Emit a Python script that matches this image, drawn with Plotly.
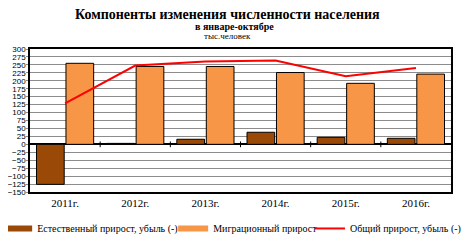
import plotly.graph_objects as go

years = ["2011г.", "2012г.", "2013г.", "2014г.", "2015г.", "2016г."]
natural = [-126, 3, 16, 38, 22, 19]
migration = [255, 245, 245, 226, 192, 221]
total = [129, 248, 261, 264, 214, 240]
y_ticks = list(range(-150, 301, 25))

names = ["Естественный прирост, убыль (-)", "Миграционный прирост", "Общий прирост, убыль (-)"]
colors = ["#9A4A06", "#F79646", "#FF0000"]

serif = "Liberation Serif"
sans = "Liberation Sans"

fig = go.Figure()
fig.add_trace(go.Bar(x=years, y=natural, name=names[0], showlegend=False,
                     marker=dict(color=colors[0], line=dict(color="black", width=1))))
fig.add_trace(go.Bar(x=years, y=migration, name=names[1], showlegend=False,
                     marker=dict(color=colors[1], line=dict(color="black", width=1))))
fig.add_trace(go.Scatter(x=years, y=total, name=names[2], mode="lines", showlegend=False,
                         line=dict(color=colors[2], width=2)))

# legend entries (wide rectangles like the reference)
legend_ids = ["legend", "legend2", "legend3"]
widths = [6, 6, 2]
for nm, col, lg, w in zip(names, colors, legend_ids, widths):
    fig.add_trace(go.Scatter(x=[None], y=[None], mode="lines", name=nm, legend=lg,
                             line=dict(color=col, width=w)))

# category boundary tick marks on the zero line
for i in range(len(years) - 1):
    fig.add_shape(type="line", xref="x", yref="y", x0=i + 0.5, x1=i + 0.5, y0=-9, y1=9,
                  line=dict(color="black", width=1))

leg_common = dict(orientation="h", yanchor="middle", y=-0.255, xanchor="left",
                  bgcolor="rgba(0,0,0,0)", font=dict(family=serif, size=10, color="black"),
                  itemwidth=30)
# the page body adds an 8px offset, so the figure is sized 8px smaller
fig.update_layout(
    width=462, height=236,
    margin=dict(l=22, r=19, t=41, b=52, autoexpand=False),
    paper_bgcolor="white", plot_bgcolor="white",
    barmode="group", bargap=0.16, bargroupgap=0.06,
    showlegend=True,
    legend=dict(x=-0.078, **leg_common),
    legend2=dict(x=0.34, **leg_common),
    legend3=dict(x=0.665, **leg_common),
    font=dict(family=serif, color="black"),
)
fig.update_xaxes(showline=True, linecolor="black", linewidth=1.5, mirror=True,
                 showgrid=False, ticks="", tickfont=dict(family=serif, size=11, color="black"),
                 automargin=False)
fig.update_yaxes(range=[-150, 300], tickvals=y_ticks, showline=True, linecolor="black",
                 linewidth=1.5, mirror=True, showgrid=True, gridcolor="#8c8c8c", gridwidth=1,
                 zeroline=True, zerolinecolor="black", zerolinewidth=1.5,
                 ticks="outside", ticklen=2, tickcolor="#8c8c8c", automargin=False,
                 ticklabelstandoff=-1,
                 tickfont=dict(family=sans, size=8, color="black"))

fig.add_annotation(text="<b>Компоненты изменения численности населения</b>", xref="paper", yref="paper",
                   x=0.47, y=1.0, yshift=35, showarrow=False, xanchor="center", yanchor="middle",
                   font=dict(family=serif, size=14, color="black"))
fig.add_annotation(text="<b>в январе-октябре</b>", xref="paper", yref="paper",
                   x=0.485, y=1.0, yshift=23, showarrow=False, xanchor="center", yanchor="middle",
                   font=dict(family=serif, size=10, color="black"))
fig.add_annotation(text="тыс.человек", xref="paper", yref="paper",
                   x=0.47, y=1.0, yshift=13, showarrow=False, xanchor="center", yanchor="middle",
                   font=dict(family=serif, size=9, color="black"))

fig.write_html("out.html")
